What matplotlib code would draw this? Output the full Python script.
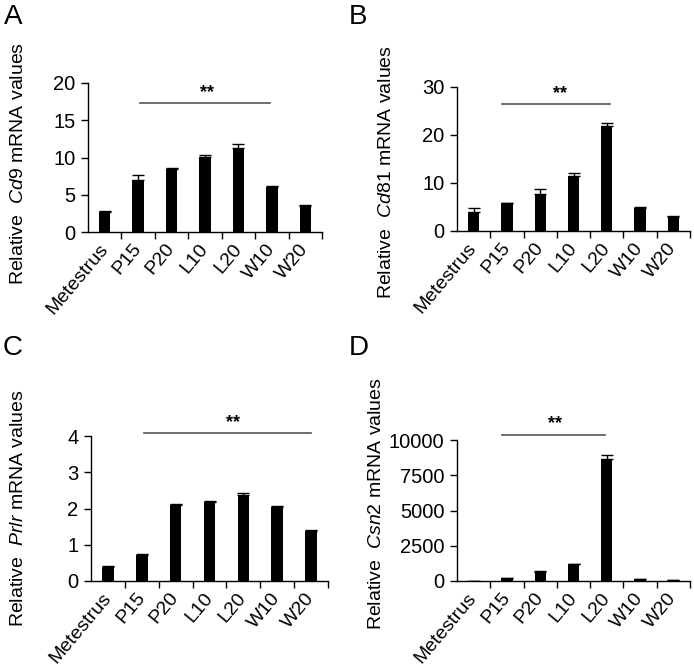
import matplotlib
matplotlib.use("Agg")
import matplotlib.pyplot as plt
import numpy as np

plt.rcParams['font.family'] = ['Liberation Sans', 'DejaVu Sans']
plt.rcParams['mathtext.fontset'] = 'custom'
plt.rcParams['mathtext.rm'] = 'Liberation Sans'
plt.rcParams['mathtext.it'] = 'Liberation Sans:italic'

categories = ["Metestrus", "P15", "P20", "L10", "L20", "W10", "W20"]

cd9_vals = [2.7, 7.0, 8.5, 10.1, 11.3, 6.0, 3.5]
cd9_err = [0.08, 0.7, 0.15, 0.2, 0.45, 0.15, 0.15]

cd81_vals = [3.9, 5.8, 7.7, 11.4, 21.9, 4.8, 3.0]
cd81_err = [0.8, 0.1, 1.0, 0.7, 0.6, 0.1, 0.1]

prlr_vals = [0.40, 0.72, 2.10, 2.17, 2.37, 2.03, 1.37]
prlr_err = [0.01, 0.02, 0.03, 0.05, 0.07, 0.05, 0.03]

csn2_vals = [10, 200, 650, 1200, 8650, 120, 50]
csn2_err = [2, 20, 30, 40, 300, 10, 5]

panels = [
    dict(letter="A", gene="Cd9", vals=cd9_vals, err=cd9_err, ymax=20, yticks=[0, 5, 10, 15, 20],
         rect_px=(88, 83, 322, 232), sig=(1.05, 4.95, 17.3), star=(3.05, 17.6),
         lab=(-0.26, 0.46), letter_px=(4, 24)),
    dict(letter="B", gene="Cd81", vals=cd81_vals, err=cd81_err, ymax=30, yticks=[0, 10, 20, 30],
         rect_px=(457, 87, 690, 231), sig=(0.85, 4.1, 26.5), star=(2.6, 26.8),
         lab=(-0.265, 0.41), letter_px=(349, 24)),
    dict(letter="C", gene="Prlr", vals=prlr_vals, err=prlr_err, ymax=4, yticks=[0, 1, 2, 3, 4],
         rect_px=(91, 436, 328, 581), sig=(1.08, 6.01, 4.09), star=(3.7, 4.14),
         lab=(-0.27, 0.50), letter_px=(3, 355)),
    dict(letter="D", gene="Csn2", vals=csn2_vals, err=csn2_err, ymax=10000,
         yticks=[0, 2500, 5000, 7500, 10000],
         rect_px=(457, 440, 690, 581), sig=(0.85, 3.95, 10355), star=(2.45, 10550),
         lab=(-0.31, 0.55), letter_px=(349, 355)),
]

W, H = 694, 670
fig = plt.figure(figsize=(W / 100, H / 100), dpi=100)

x = np.arange(len(categories))
for p in panels:
    l, t, r, b = p["rect_px"]
    ax = fig.add_axes([l / W, 1 - b / H, (r - l) / W, (b - t) / H])
    ax.bar(x, p["vals"], width=0.34, color="black", zorder=2)
    ax.errorbar(x, p["vals"], yerr=[np.zeros(len(x)), p["err"]], fmt="none",
                ecolor="black", elinewidth=1.0, capsize=4, capthick=1.0, zorder=1)
    ax.set_xlim(-0.5, len(categories) - 0.5)
    ax.set_ylim(0, p["ymax"])
    ax.set_yticks(p["yticks"])
    ax.set_yticklabels([str(v) for v in p["yticks"]], fontsize=14.5)
    ax.set_xticks(x)
    ax.set_xticklabels(categories, rotation=50, ha="right", va="center",
                       rotation_mode="anchor", fontsize=14)
    ax.tick_params(axis="x", which="major", length=0, pad=10)
    ax.set_xticks(np.arange(0.5, len(categories), 1.0), minor=True)
    ax.tick_params(axis="x", which="minor", length=5, width=1.0, direction="out")
    ax.tick_params(axis="y", length=5, width=1.0, direction="out", pad=4)
    for s in ["top", "right"]:
        ax.spines[s].set_visible(False)
    for s in ["left", "bottom"]:
        ax.spines[s].set_linewidth(1.0)
    ax.spines["left"].set_zorder(3)
    ax.spines["bottom"].set_zorder(3)
    ax.set_ylabel(r"Relative  $\it{" + p["gene"] + r"}$ mRNA values", fontsize=14)
    ax.yaxis.set_label_coords(*p["lab"])
    x0, x1, yy = p["sig"]
    ax.plot([x0, x1], [yy, yy], color="#555555", lw=1.2, clip_on=False)
    sx, sy = p["star"]
    ax.text(sx, sy, "**", ha="center", va="bottom", fontsize=13, fontweight="bold")
    lx, ly = p["letter_px"]
    fig.text(lx / W, 1 - ly / H, p["letter"], fontsize=20, ha="left", va="baseline")

fig.savefig("out.png", dpi=100)
